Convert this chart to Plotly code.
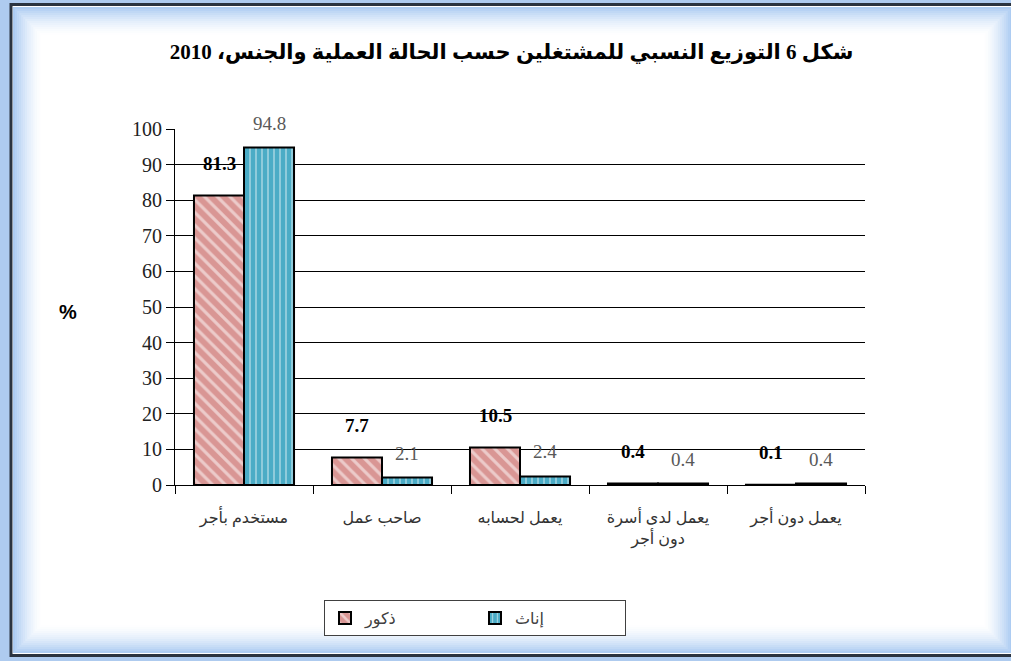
import plotly.graph_objects as go

categories = ['مستخدم بأجر', 'صاحب عمل', 'يعمل لحسابه', 'يعمل لدى أسرة<br>دون أجر', 'يعمل دون أجر']
males = [81.3, 7.7, 10.5, 0.4, 0.1]
females = [94.8, 2.1, 2.4, 0.4, 0.4]
y_ticks = list(range(0, 101, 10))

serif = 'Liberation Serif, DejaVu Sans, serif'
W, H = 1011, 661
L, R, T, B = 175, 146, 129, 176

def px_x(x):
    return (x - L) / (W - L - R)

def px_y(y):
    return (H - B - y) / (H - T - B)

fig = go.Figure()

fig.add_trace(go.Bar(
    x = categories, y = males, name = 'ذكور',
    marker = dict(color = '#D99694',
                  line = dict(color = 'black', width = 2),
                  pattern = dict(shape = '\\', bgcolor = '#D99694', fgcolor = 'white',
                                 size = 9, solidity = 0.35))))

fig.add_trace(go.Bar(
    x = categories, y = females, name = 'إناث',
    marker = dict(color = '#4BACC6',
                  line = dict(color = 'black', width = 2),
                  pattern = dict(shape = '|', bgcolor = '#4BACC6', fgcolor = 'white',
                                 size = 6, solidity = 0.25))))

# data labels
for cat, m, f in zip(categories, males, females):
    fig.add_annotation(x = cat, y = m, xref = 'x', yref = 'y', text = f'<b>{m}</b>',
                       showarrow = False, xshift = -25, yshift = 20, yanchor = 'bottom',
                       font = dict(family = serif, size = 19, color = 'black'))
    fig.add_annotation(x = cat, y = f, xref = 'x', yref = 'y', text = f'{f}',
                       showarrow = False, xshift = 25, yshift = 12, yanchor = 'bottom',
                       font = dict(family = serif, size = 19, color = '#595959'))

fig.add_annotation(x = px_x(57), y = px_y(312), xref = 'paper', yref = 'paper',
                   text = '<b>%</b>', showarrow = False,
                   font = dict(family = 'Liberation Sans, Arial', size = 20, color = 'black'))

# outer frame with soft blue glow
shapes = [dict(type = 'rect', xref = 'paper', yref = 'paper', layer = 'below',
               x0 = px_x(11), x1 = px_x(1020), y0 = px_y(655.5), y1 = px_y(4.5),
               line = dict(color = '#2B3440', width = 3), fillcolor = 'white')]
n = 14
for i in range(n):
    d = 3 + i * 2
    a = 0.85 * (1 - i / n) ** 1.6
    shapes.append(dict(type = 'rect', xref = 'paper', yref = 'paper', layer = 'below',
                       x0 = px_x(11 + d), x1 = px_x(1014 - d), y0 = px_y(655 - d), y1 = px_y(5 + d),
                       line = dict(color = f'rgba(160,196,240,{a:.3f})', width = 2.2),
                       fillcolor = 'rgba(0,0,0,0)'))

fig.update_layout(
    width = W, height = H,
    margin = dict(l = L, r = R, t = T, b = B),
    paper_bgcolor = '#AECBEF',
    plot_bgcolor = 'rgba(0,0,0,0)',
    barmode = 'group', bargap = 0.275, bargroupgap = 0,
    shapes = shapes,
    title = dict(text = '<b>شكل 6 التوزيع النسبي للمشتغلين حسب الحالة العملية والجنس، 2010</b>',
                 x = 0.506, xanchor = 'center', y = 1 - 52 / H, yanchor = 'middle',
                 font = dict(family = serif, size = 21, color = 'black')),
    legend = dict(orientation = 'h', x = px_x(475), y = px_y(618),
                  xanchor = 'center', yanchor = 'middle',
                  bordercolor = '#404040', borderwidth = 1, bgcolor = 'white',
                  entrywidth = 105, traceorder = 'normal',
                  font = dict(family = serif, size = 16, color = '#404040')),
    font = dict(family = serif, color = 'black'))

fig.update_yaxes(range = [0, 100], tickvals = y_ticks,
                 showgrid = True, gridcolor = 'black', gridwidth = 1,
                 showline = True, linecolor = 'black', linewidth = 1,
                 ticks = 'outside', ticklen = 8, tickcolor = 'black',
                 tickfont = dict(family = serif, size = 20, color = '#222'),
                 zeroline = False)

fig.update_xaxes(showline = True, linecolor = 'black', linewidth = 1,
                 ticks = 'outside', ticklen = 8, tickcolor = 'black', tickson = 'boundaries',
                 ticklabelstandoff = 18,
                 tickfont = dict(family = serif, size = 16, color = '#333'))

# drop the default page margin so the figure sits at the window's corner
fig.write_html('out.html', config = dict(displayModeBar = False),
               post_script = "document.body.style.margin = '0';")
